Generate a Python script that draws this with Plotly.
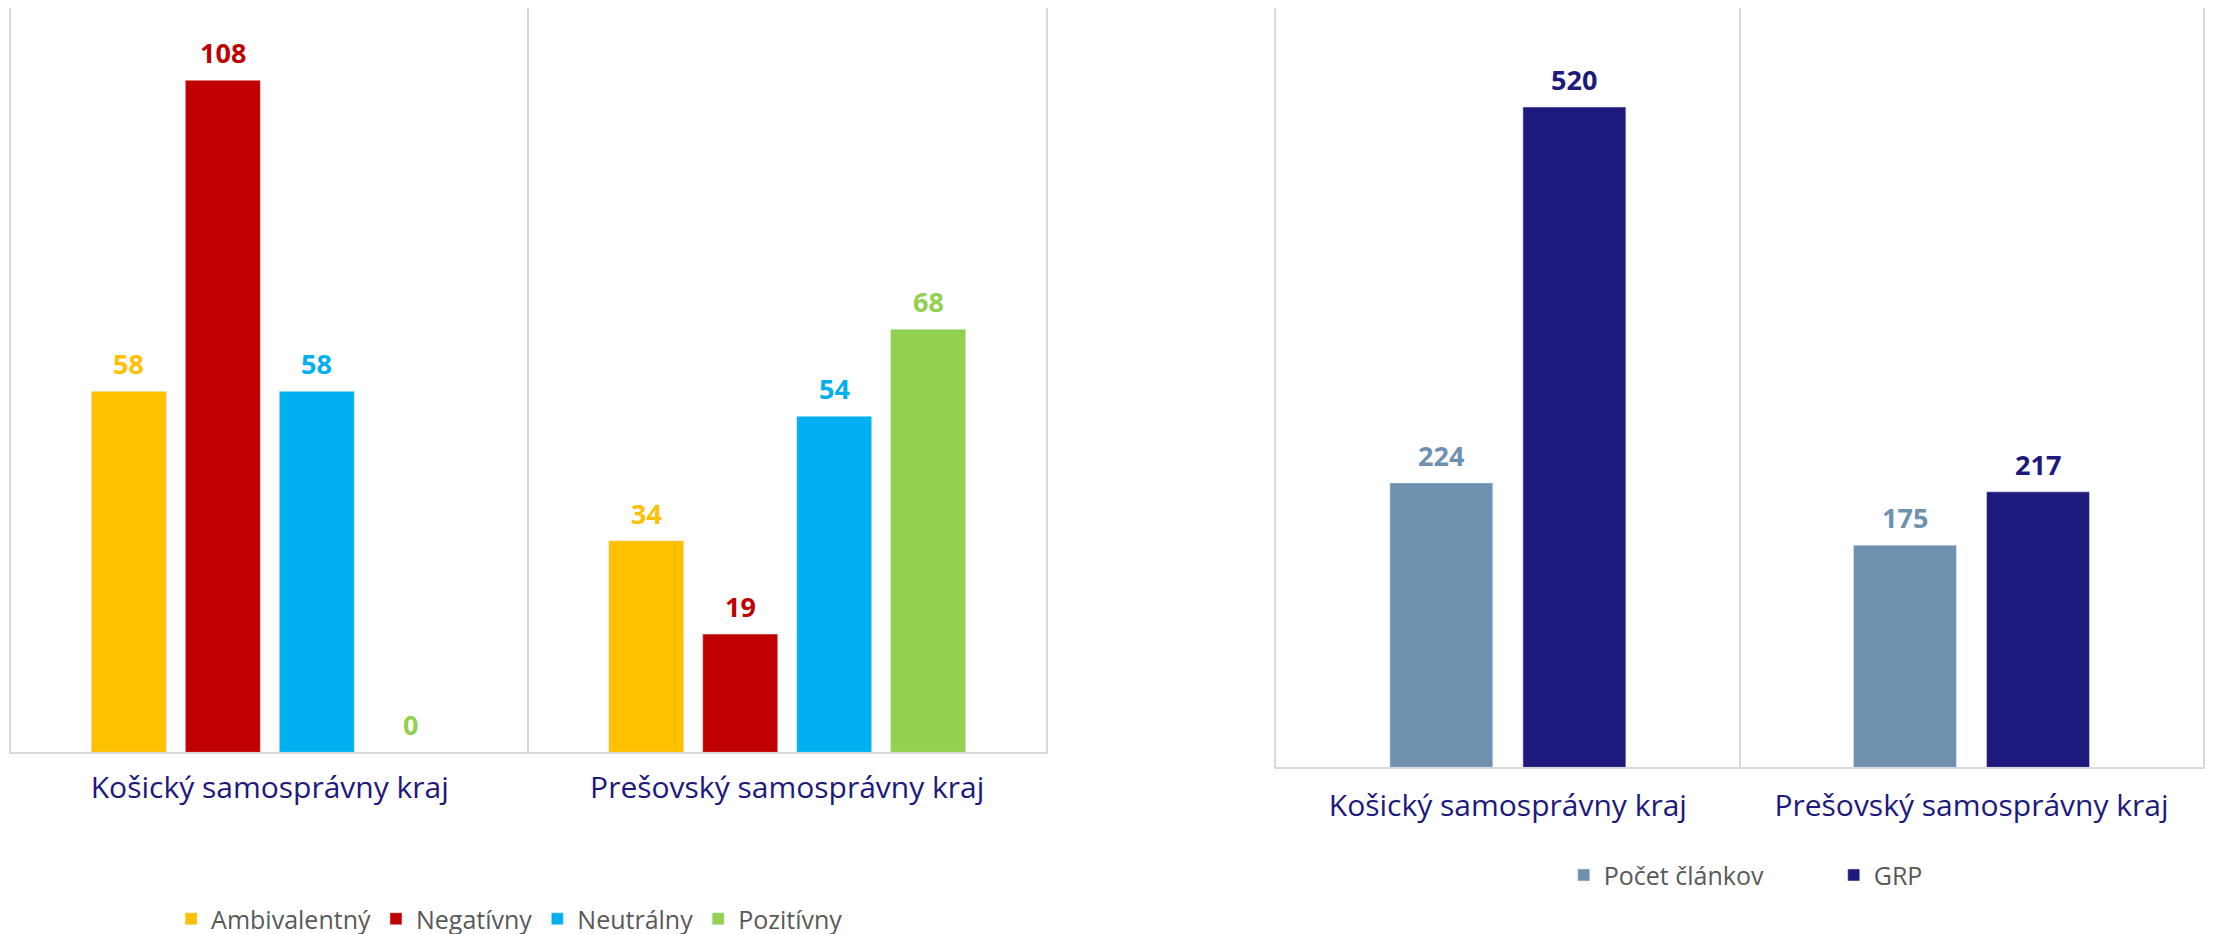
import plotly.graph_objects as go

# ---- data ----
regions = ["Košický samosprávny kraj", "Prešovský samosprávny kraj"]
sent_names = ["Ambivalentný", "Negatívny", "Neutrálny", "Pozitívny"]
ambivalent = [58, 34]
negative = [108, 19]
neutral = [58, 54]
positive = [0, 68]

vol_names = ["Počet článkov", "GRP"]
articles = [224, 175]
grp = [520, 217]

# ---- styles ----
sent_colors = ["#FFC000", "#C00000", "#00B0F0", "#92D050"]
vol_colors = ["#6E91B0", "#1E197C"]
FONT = "Open Sans"
NAVY = "#1E197C"
GRID = "#D9D9D9"

fig = go.Figure()
annotations = []


def add_group(series, names, colors, step, width, xa, ya, legend):
    n = len(series)
    for i, (name, vals, col) in enumerate(zip(names, series, colors)):
        center = (i - (n - 1) / 2) * step
        fig.add_trace(go.Bar(
            x=regions, y=vals, name=name, marker_color=col,
            width=width, offset=center - width / 2,
            xaxis=xa, yaxis=ya, legend=legend,
            hovertemplate="%{x}<br>" + name + ": %{y}<extra></extra>",
        ))
        for j, v in enumerate(vals):
            annotations.append(dict(
                x=j + center, y=v, xref=xa, yref=ya,
                text=f"<b>{v}</b>", showarrow=False,
                yanchor="bottom", xanchor="center", yshift=7,
                font=dict(family=FONT, size=27, color=col),
            ))


add_group([ambivalent, negative, neutral, positive], sent_names, sent_colors,
          0.1816, 0.145, "x", "y", "legend")
add_group([articles, grp], vol_names, vol_colors,
          0.287, 0.222, "x2", "y2", "legend2")

xcommon = dict(
    type="category", tickson="boundaries", showgrid=True, gridcolor=GRID, gridwidth=1.5,
    showline=True, linecolor=GRID, linewidth=1.5, ticks="", zeroline=False,
    tickfont=dict(family=FONT, size=30, color=NAVY), range=[-0.5, 1.5],
)
ycommon = dict(
    showticklabels=False, showgrid=False, zeroline=False,
    showline=True, mirror=True, linecolor=GRID, linewidth=1.5, ticks="",
)
legfont = dict(family=FONT, size=25, color="#595959")

fig.update_layout(
    width=2213, height=934,
    margin=dict(l=0, r=0, t=0, b=0),
    paper_bgcolor="white", plot_bgcolor="white",
    barmode="overlay",
    font=dict(family=FONT),
    annotations=annotations,
    xaxis=dict(domain=[0.0014, 0.469], anchor="y", ticklabelstandoff=8, **xcommon),
    yaxis=dict(domain=[0.1927, 1.0], anchor="x", range=[0, 119.6], **ycommon),
    xaxis2=dict(domain=[0.573, 0.992], anchor="y2", ticklabelstandoff=11, **xcommon),
    yaxis2=dict(domain=[0.1764, 1.0], anchor="x2", range=[0, 598], **ycommon),
    legend=dict(orientation="h", x=0.0737, y=0.0118, xanchor="left", yanchor="middle",
                font=legfont, traceorder="normal", itemwidth=30),
    legend2=dict(orientation="h", x=0.703, y=0.0594, xanchor="left", yanchor="middle",
                 font=legfont, traceorder="normal", entrywidth=225, itemwidth=30),
    showlegend=True,
)

fig.write_html("out.html")
